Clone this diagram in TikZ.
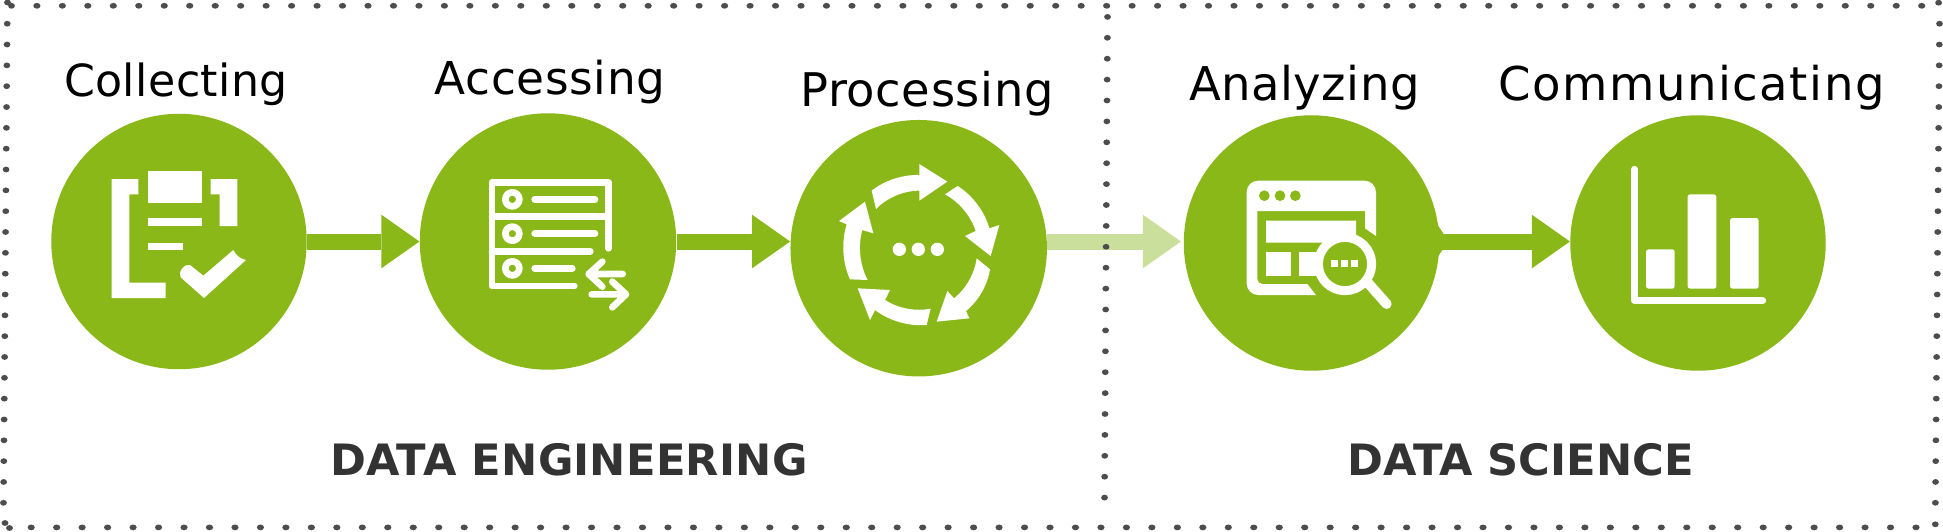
\documentclass[tikz,border=0pt]{standalone}
\usepackage{fontspec}
\setmainfont{DejaVu Sans}
\usetikzlibrary{arrows.meta,calc}
\definecolor{leafgreen}{HTML}{8BB819}
\definecolor{palegreen}{HTML}{CBDF9C}
\definecolor{dotgray}{HTML}{4D4D4D}
\definecolor{titlegray}{HTML}{333333}
\def\wu{0.00667cm}
\tikzset{
	stepcircle/.style={circle,fill=leafgreen,inner sep=0pt,minimum size=5.11cm},
	steplabel/.style={anchor=base,inner sep=0pt,text=black},
	grouptitle/.style={anchor=base,inner sep=0pt,text=titlegray,font=\fontsize{24.6}{30}\selectfont\bfseries},
	flowarrow/.style={leafgreen,line width=0.32cm,-{Triangle[length=0.76cm,width=1.07cm,sep=0pt,line width=0pt]}},
	frameline/.style={fill=dotgray},
	iconline/.style={draw=white,line cap=round,line join=round,line width=20*\wu},
	ringbend/.style={looseness=0.85},
}
\begin{document}
\begin{tikzpicture}[x=0.02cm,y=-0.02cm]
	\useasboundingbox (0,0) rectangle (1943,531);
	\node[stepcircle] (collect) at (179,241.5) {};
	\node[stepcircle,minimum size=5.13cm] (access) at (548,241.5) {};
	\node[stepcircle,minimum size=5.13cm] (process) at (918.7,248.2) {};
	\node[stepcircle] (analyze) at (1311.5,243) {};
	\node[stepcircle] (communicate) at (1698,243) {};
	\node[steplabel,font={\fontsize{25.2}{30}\selectfont\addfontfeatures{LetterSpace=0.9}}] (collectlabel) at (176,96.5) {Collecting};
	\node[steplabel,font={\fontsize{25.8}{30}\selectfont\addfontfeatures{LetterSpace=1.4}}] (accesslabel) at (550,94.8) {Accessing};
	\node[steplabel,font={\fontsize{26.4}{30}\selectfont\addfontfeatures{LetterSpace=1.4}}] (processlabel) at (927,106.7) {Processing};
	\node[steplabel,font={\fontsize{26.5}{30}\selectfont\addfontfeatures{LetterSpace=1}}] (analyzelabel) at (1304.5,100.6) {Analyzing};
	\node[steplabel,font={\fontsize{26.5}{30}\selectfont\addfontfeatures{LetterSpace=3.3}}] (communicatelabel) at (1691.5,100.6) {Communicating};
	\node[grouptitle,font={\fontsize{24.6}{30}\selectfont\bfseries\addfontfeatures{LetterSpace=0.5}}] (engineering) at (569,475.5) {DATA ENGINEERING};
	\node[grouptitle] (science) at (1520.5,475.5) {DATA SCIENCE};
	% arrows between the steps
	\draw[flowarrow] (collect.east) -- (access.west);
	\draw[flowarrow] (access.east) -- (access.east -| process.west);
	\draw[flowarrow,palegreen,shorten >=0.05cm] (access.east -| process.east) -- (access.east -| analyze.west);
	\draw[flowarrow] (analyze.east |- access.east) -- (communicate.west |- access.east);
	\fill[leafgreen] (1437,224)--(1443,233)--(1443,249)--(1437,258)--cycle;
	% dotted frame
	\foreach \i in {0,...,74}{
		\fill[frameline] ({36.9+25.47*\i},5.8) ellipse (3.6 and 2.9);
		\fill[frameline] ({31.2+25.47*\i},527.4) ellipse (3.6 and 2.9);
	}
	\foreach \i in {0,...,23}{
		\fill[frameline] ({7.2-0.161*\i},{23.7+20.83*\i}) ellipse (3.4 and 2.9);
		\fill[frameline] ({1939.5-0.18*\i},{23.7+20.83*\i}) ellipse (3.4 and 2.9);
		\fill[frameline] ({1107.5-0.13*\i},{16.9+20.9*\i}) ellipse (3.4 and 2.9);
	}
	\foreach \x/\y in {7.5/2.5,11.5/5.8,5/523,9.5/528,1938.6/2.7,1935.3/524.3}
		\fill[frameline] (\x,\y) ellipse (3.4 and 2.9);
	% collecting icon
	\begin{scope}[shift={(90,150)},scale=1/3]
		\fill[white] (65,87)--(145,87)--(145,133)--(118,133)--(118,398)--(227,398)--(227,444)--(65,444)--cycle;
		\fill[white] (173,63) rectangle (335,158);
		\fill[white] (362,87)--(442,87)--(442,228)--(389,228)--(389,133)--(362,133)--cycle;
		\fill[white] (173,205) rectangle (335,228);
		\fill[white] (173,278) rectangle (280,300);
		\fill[white] (340,377)--(430,300) to[bend right=25] (468,330)--(342,444)--(272,382) to[bend left=70] (300,345)--cycle;
	\end{scope}
	% accessing icon
	\begin{scope}[shift={(470,160)},scale=1/3]
		\draw[iconline] (416,265)--(416,67)--(66,67)--(66,378)--(313,378);
		\draw[iconline] (66,170)--(416,170) (66,274)--(361,274);
		\foreach \y in {118,221,325}
			\draw[iconline] (127,\y) circle [radius=21];
		\draw[iconline] (194,118)--(375,118) (194,221)--(375,221) (194,325)--(307,325);
		\draw[iconline] (458,342)--(358,342) (397,305)--(356,342)--(397,380);
		\draw[iconline] (365,403)--(466,403) (427,365)--(468,403)--(427,442);
	\end{scope}
	% processing icon
	\begin{scope}[shift={(830,150)},scale=1/3,ringbend]
		\fill[white] (125,122) to[bend left=20] (268,75)--(268,42)--(352,95)--(268,152)--(268,122) to[bend right=23] (138,177)--cycle;
		\fill[white] (345,133)--(383,108) to[bend left=21] (478,235)--(508,225)--(482,318)--(405,258)--(437,243) to[bend right=22] cycle;
		\fill[white] (440,325)--(480,358) to[bend left=21] (408,483)--(418,505)--(320,515)--(352,423)--(372,445) to[bend right=22] cycle;
		\fill[white] (302,476)--(290,525) to[bend left=21] (135,480)--(120,510)--(83,415)--(180,420)--(165,450) to[bend right=22] cycle;
		\fill[white] (113,390)--(60,388) to[bend left=21] (50,223)--(27,213)--(105,155)--(130,250)--(97,240) to[bend right=22] cycle;
		\foreach \x in {208,265,322}
			\fill[white] (\x,298) circle [radius=20];
	\end{scope}
	% analyzing icon
	\begin{scope}[shift={(1230,160)},scale=1/3]
		\fill[white,rounded corners=0.23cm] (140,405)--(50,405)--(50,62)--(438,62)--(438,150) [sharp corners] --(438,228)--(405,205)--(405,153)--(82,153) [rounded corners=0.1cm] --(82,372)--(150,372) [sharp corners] --(232,372)--(258,405)--cycle;
		\fill[white] (108,182)--(378,182)--(378,235)--(300,248)--(108,248)--cycle;
		\fill[white] (108,275) rectangle (183,347);
		\fill[white] (208,275) rectangle (280,347);
		\foreach \x in {103,150,196}
			\fill[leafgreen] (\x,107) circle [radius=16];
		\draw[iconline,line cap=round,line width=30*\wu] (415,370)--(470,432);
		\draw[iconline,fill=leafgreen,line width=27*\wu] (345,312) circle [radius=80];
		\foreach \x in {303,332,362}
			\fill[white] (\x,300) rectangle (\x+22,320);
	\end{scope}
	% communicating icon
	\begin{scope}[shift={(1610,150)},scale=1/3]
		\draw[iconline,line width=21*\wu] (74,58)--(74,452)--(458,452);
		\fill[white,rounded corners=0.05cm] (108,298) rectangle (194,416);
		\fill[white,rounded corners=0.05cm] (233,133) rectangle (319,416);
		\fill[white,rounded corners=0.05cm] (360,204) rectangle (446,416);
	\end{scope}
\end{tikzpicture}
\end{document}
